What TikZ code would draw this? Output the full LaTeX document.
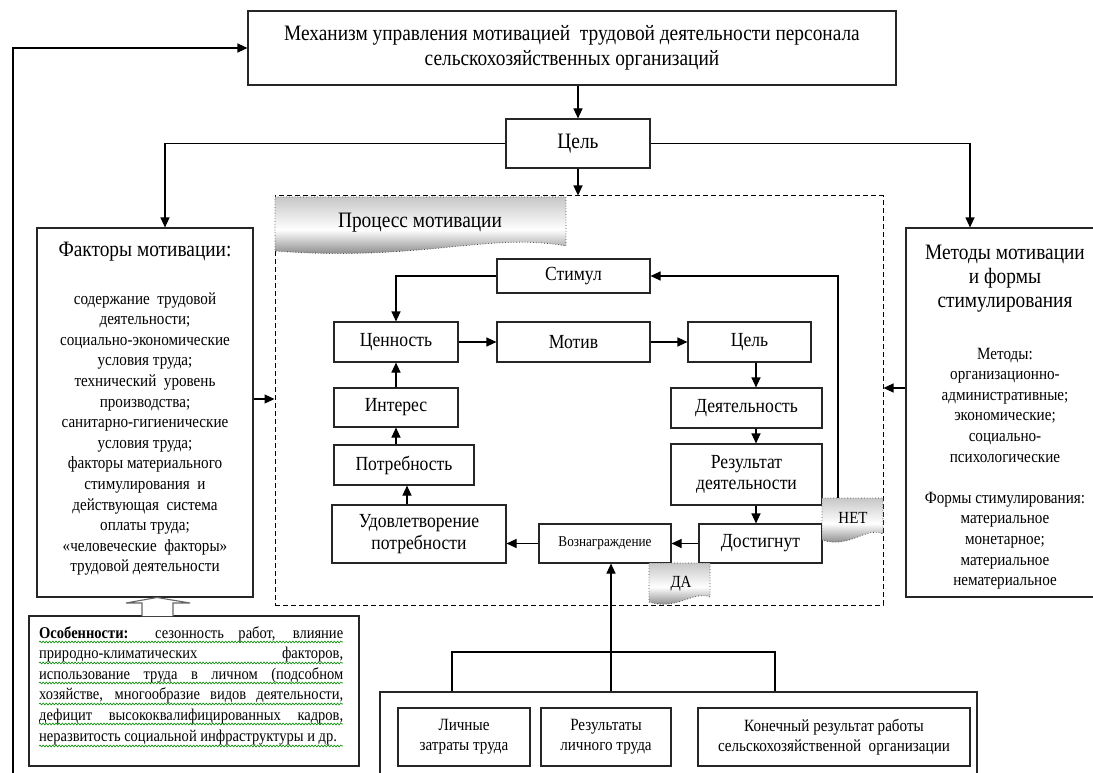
\documentclass[tikz,border=0pt]{standalone}
\usepackage{fontspec}
\setmainfont{Liberation Serif}[FakeStretch=0.88]
\usetikzlibrary{arrows.meta, positioning, decorations.pathmorphing}

\newcommand{\mtitle}{\fontsize{22}{25.5}\selectfont}
\newcommand{\mbody}{\fontsize{17.2}{20.6}\selectfont}
\newcommand{\minner}{\fontsize{20}{21.5}\selectfont}

\begin{document}
\begin{tikzpicture}[
    x=1pt, y=-1pt,
    box/.style={draw=black!85, line width=1.1pt, fill=white, inner sep=2pt, align=center},
    ibox/.style={box, font=\minner},
    bbox/.style={box, font=\fontsize{17.2}{20}\selectfont},
    conn/.style={line width=1.1pt},
    arr/.style={line width=1.1pt, -{Triangle[length=10pt,width=9pt]}},
    tab/.style={draw=black!70, dotted, line width=0.8pt,
        top color=black!22, bottom color=black!60, middle color=white},
    wavy/.style={draw=green!55!black, line width=0.6pt,
        decorate, decoration={snake, amplitude=0.9pt, segment length=3.2pt}}
]
    \useasboundingbox (0,0) rectangle (1093,773);
    \fill[white] (0,0) rectangle (1093,773);

    % top level
    \node[box, minimum width=648pt, minimum height=74pt, font=\mtitle] (mech) at (572,48)
        {Механизм управления мотивацией\ \ трудовой деятельности персонала\\сельскохозяйственных организаций};
    \node[box, minimum width=144pt, minimum height=49pt, font=\mtitle] (goal) at (578,143.5) {Цель};

    % side boxes
    \node[box, minimum width=216pt, minimum height=369pt] (factors) at (145,412.5) {};
    \node[font=\mtitle] (factitle) at (145,252) {Факторы мотивации:};
    \node[align=center, font=\mbody] (factext) at (145,434)
        {содержание\ \ трудовой\\деятельности;\\социально-экономические\\условия труда;\\технический\ \ уровень\\производства;\\санитарно-гигиенические\\условия труда;\\факторы материального\\стимулирования\ \ и\\действующая\ \ система\\оплаты труда;\\«человеческие\ \ факторы»\\трудовой деятельности};

    \node[box, minimum width=198pt, minimum height=369pt] (methods) at (1005,412.5) {};
    \node[align=center, font=\fontsize{22}{24}\selectfont] (methtitle) at (1005,279)
        {Методы мотивации\\и формы\\стимулирования};
    \node[align=center, font=\mbody] (methtext) at (1005,468.5)
        {Методы:\\организационно-\\административные;\\экономические;\\социально-\\психологические\\[20.6pt]Формы стимулирования:\\материальное\\монетарное;\\материальное\\нематериальное};

    % process
    \node[draw=black, dashed, dash pattern=on 5pt off 3pt, line width=1pt,
        minimum width=608pt, minimum height=409pt] (process) at (579,400.5) {};
    \shadedraw[tab] (275,197) -- (566,197) -- (566,246)
        .. controls (490,232) and (420,262) .. (275,251) -- cycle;
    \node[font=\mtitle] (proctitle) at (420,223) {Процесс мотивации};

    \node[ibox, minimum width=153pt, minimum height=34pt] (stimul) at (573.5,276) {Стимул};
    \node[ibox, minimum width=124pt, minimum height=40pt] (value) at (396,342) {Ценность};
    \node[ibox, minimum width=153pt, minimum height=40pt] (motive) at (573.5,342) {Мотив};
    \node[ibox, minimum width=123pt, minimum height=40pt] (goal2) at (749.5,342) {Цель};
    \node[ibox, minimum width=124pt, minimum height=39pt] (interest) at (396,407.5) {Интерес};
    \node[ibox, minimum width=151pt, minimum height=40pt] (activity) at (746.5,408) {Деятельность};
    \node[ibox, minimum width=140pt, minimum height=40pt] (need) at (404,465) {Потребность};
    \node[ibox, minimum width=151pt, minimum height=61pt] (result) at (746.5,474.5) {Результат\\деятельности};
    \node[ibox, minimum width=174pt, minimum height=58pt] (satisf) at (419,534) {Удовлетворение\\потребности};
    \node[box, minimum width=132pt, minimum height=39pt, font=\fontsize{15}{17}\selectfont] (reward) at (605,543.5) {Вознаграждение};
    \node[ibox, minimum width=123pt, minimum height=39pt] (achieved) at (760.5,543.5) {Достигнут};

    \shadedraw[tab] (822,498) -- (883,498) -- (883,534)
        .. controls (866,526) and (850,549) .. (822,540) -- cycle;
    \node[font=\fontsize{17}{20}\selectfont] (nolabel) at (853,518) {НЕТ};
    \shadedraw[tab] (649,563) -- (710,563) -- (710,597)
        .. controls (693,590) and (677,611) .. (649,602) -- cycle;
    \node[font=\fontsize{17}{20}\selectfont] (yeslabel) at (681,584) {ДА};

    % features
    \node[box, minimum width=330pt, minimum height=150pt] (feat) at (194,691) {};
    \node[anchor=north west, inner sep=0pt, text width=304pt, align=justify,
        font=\fontsize{16.5}{20.6}\selectfont] (feattext) at (39,626)
        {\tolerance=10000\hyphenpenalty=10000\exhyphenpenalty=10000
        \textbf{Особенности:} сезонность работ, влияние\linebreak
        природно-климатических факторов,\linebreak
        использование труда в личном (подсобном\linebreak
        хозяйстве, многообразие видов деятельности,\linebreak
        дефицит высококвалифицированных кадров,\linebreak
        неразвитость социальной инфраструктуры и~др.};
    \foreach \y in {642,663,683,704,724,746}
        \draw[wavy] (39,\y) -- (343,\y);
    \draw[line width=1.1pt, draw=black!60, fill=white] (142,616) -- (142,603) -- (126,603)
        -- (157,597.5) -- (190,603) -- (173,603) -- (173,616);

    % bottom
    \node[box, minimum width=597pt, minimum height=120pt] (base) at (678.5,752) {};
    \node[bbox, minimum width=132pt, minimum height=58pt] (costs) at (464,737) {Личные\\затраты труда};
    \node[bbox, minimum width=130pt, minimum height=58pt] (results) at (606,737) {Результаты\\личного труда};
    \node[bbox, minimum width=272pt, minimum height=58pt] (final) at (834,737)
        {Конечный результат работы\\сельскохозяйственной\ \ организации};

    % connectors
    \coordinate (lfoot) at (13,790);
    \coordinate (rv) at (756,0);
    \coordinate (lv) at (407,0);
    \coordinate (netup) at (838,498);
    \coordinate (brl) at (452,652);
    \coordinate (brc) at (611,652);
    \coordinate (brr) at (775,652);
    \coordinate (fa) at ([yshift=13.5pt]factors.east);
    \coordinate (ma) at ([yshift=24.5pt]methods.west);

    \draw[arr] (lfoot) |- (mech.west);
    \draw[arr] (goal.north |- mech.south) -- (goal.north);
    \draw[arr] (goal.west) -| ([xshift=20pt]factors.north);
    \draw[arr] (goal.east) -| ([xshift=-35pt]methods.north);
    \draw[arr] (goal.south) -- (goal.south |- process.north);
    \draw[arr] (fa) -- (fa -| process.west);
    \draw[arr] (ma) -- (ma -| process.east);

    \draw[arr] (stimul.west) -| (value.north);
    \draw[arr] (value) -- (motive);
    \draw[arr] (motive) -- (goal2);
    \draw[arr] (goal2.south -| rv) -- (activity.north -| rv);
    \draw[arr] (activity.south -| rv) -- (result.north -| rv);
    \draw[arr] (result.south -| rv) -- (achieved.north -| rv);
    \draw[arr] (achieved) -- (reward);
    \draw[arr] (reward.west) -- (reward.west -| satisf.east);
    \draw[arr] (satisf.north -| lv) -- (need.south -| lv);
    \draw[arr] (need.north -| interest) -- (interest.south);
    \draw[arr] (interest) -- (value);
    \draw[arr] (netup) |- (stimul.east);

    \draw[conn] (brl |- base.north) -- (brl) -- (brr) -- (brr |- base.north);
    \draw[arr] (brc |- base.north) -- (brc |- reward.south);
\end{tikzpicture}
\end{document}
